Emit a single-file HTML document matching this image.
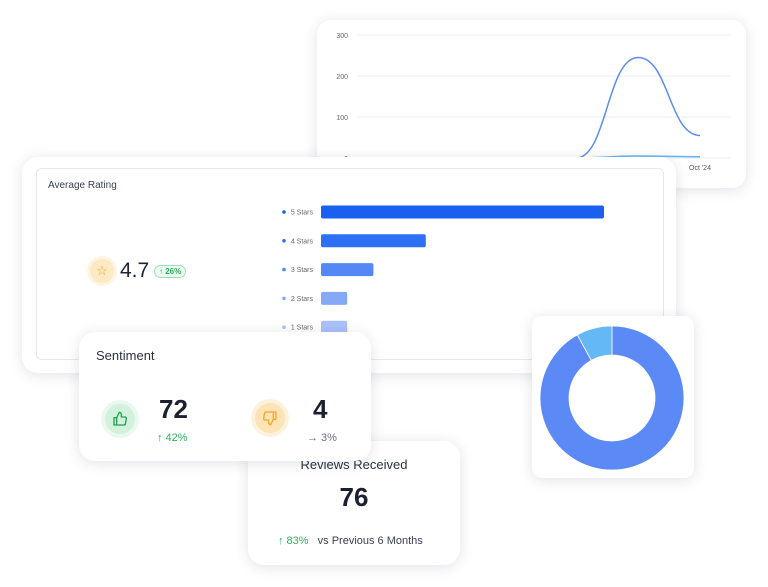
<!DOCTYPE html>
<html><head><meta charset="utf-8">
<style>
*{box-sizing:border-box;margin:0;padding:0}
body{width:768px;height:587px;background:#fff;position:relative;overflow:hidden;font-family:"Liberation Sans",sans-serif;color:#1f2433}
.card{position:absolute;background:#fff;border-radius:16px;box-shadow:0 2px 14px rgba(30,40,70,.13)}
svg{position:absolute;left:0;top:0}
.ic{position:absolute;border-radius:50%}
.ic svg{position:absolute;left:7px;top:7px}
</style></head><body>

<div class="card" style="left:317px;top:20px;width:429px;height:168px;border-radius:14px"></div>
<svg id="line" width="768" height="587"></svg>

<div class="card" style="left:22px;top:157px;width:654px;height:216px">
  <div style="position:absolute;left:14px;top:11px;width:628px;height:192px;border:1px solid #e6e9ef;border-radius:6px"></div>
  <div style="position:absolute;left:26px;top:23px;font-size:10px;color:#3b4150">Average Rating</div>
  <div style="position:absolute;left:68px;top:102px;width:24px;height:24px;border-radius:50%;background:#fde9c4;box-shadow:0 0 0 3px #fef4e2;color:#f5a623;font-size:13px;text-align:center;line-height:24px">☆</div>
  <div style="position:absolute;left:98px;top:102px;font-size:21px;color:#1f2433">4.7</div>
  <div style="position:absolute;left:132px;top:108px;font-size:8px;color:#2fa85a;border:1px solid #9ee0b4;background:#ecfbf1;border-radius:7px;padding:1px 4px;font-weight:bold">↑ 26%</div>
</div>
<svg id="bars" width="768" height="587"></svg>

<div class="card" style="left:532px;top:316px;width:162px;height:162px;border-radius:10px"></div>
<svg id="donut" width="768" height="587"></svg>

<div class="card" style="left:248px;top:441px;width:212px;height:124px">
  <div style="position:absolute;left:0;width:212px;top:16px;text-align:center;font-size:13px;color:#2b3140">Reviews Received</div>
  <div style="position:absolute;left:0;width:212px;top:41px;text-align:center;font-size:26px;font-weight:bold;color:#1b2030">76</div>
  <div style="position:absolute;left:30px;top:94px;font-size:11px;color:#2fb35f">↑ 83% <span style="color:#3b4150;margin-left:6px">vs Previous 6 Months</span></div>
</div>

<div class="card" style="left:79px;top:332px;width:292px;height:129px">
  <div style="position:absolute;left:17px;top:16px;font-size:13px;color:#2b3140">Sentiment</div>
  <div class="ic" style="left:26px;top:72px;width:30px;height:30px;background:#d2f2dd;box-shadow:0 0 0 4px #e9f9ef">
    <svg width="16" height="16" viewBox="0 0 24 24" fill="none" stroke="#22a150" stroke-width="2" stroke-linejoin="round"><path d="M7 10v11H3V10z"/><path d="M7 10l4-8c1.7 0 3 1.3 3 3v4h5.5a2 2 0 0 1 2 2.3l-1.4 8A2 2 0 0 1 18 21H7"/></svg>
  </div>
  <div style="position:absolute;left:80px;top:62px;font-size:26px;font-weight:bold;color:#1b2030">72</div>
  <div style="position:absolute;left:78px;top:100px;font-size:11px;color:#2fb35f">↑ 42%</div>
  <div class="ic" style="left:176px;top:71px;width:30px;height:30px;background:#fde3b5;box-shadow:0 0 0 4px #fef2dc">
    <svg width="16" height="16" viewBox="0 0 24 24" fill="none" stroke="#f5a623" stroke-width="2" stroke-linejoin="round"><path d="M17 14V3h4v11z"/><path d="M17 14l-4 8c-1.7 0-3-1.3-3-3v-4H4.5a2 2 0 0 1-2-2.3l1.4-8A2 2 0 0 1 6 3h11"/></svg>
  </div>
  <div style="position:absolute;left:234px;top:62px;font-size:26px;font-weight:bold;color:#1b2030">4</div>
  <div style="position:absolute;left:228px;top:100px;font-size:11px;color:#6b7280">→ 3%</div>
</div>

<script>
const NS='http://www.w3.org/2000/svg';
function mk(p,t,a){const e=document.createElementNS(NS,t);for(const k in a)e.setAttribute(k,a[k]);p.appendChild(e);return e;}

// line chart data
const lineMonths=['May','Jun','Jul','Aug','Sep','Oct \'24'];
const lineSeriesA=[0,0,0,0,245,55];
const lineSeriesB=[0,0,0,0,5,3];
const lineTicks=[0,100,200,300];
(function(){
  const s=document.getElementById('line');
  const y=v=>158-v*(123/300), x=i=>390+i*62;
  lineTicks.forEach(t=>{
    const g=mk(s,'line',{x1:357,x2:731,y1:y(t),y2:y(t),stroke:'#eceef2'});
    
    
    const tx=mk(s,'text',{x:348,y:y(t)+3,'font-size':7,fill:'#666','text-anchor':'end','font-family':'Liberation Sans'});
    tx.textContent=t;
    
    
  });
  const tl=mk(s,'text',{x:x(5),y:170,'font-size':7,fill:'#555','text-anchor':'middle','font-family':'Liberation Sans'});
  tl.textContent=lineMonths[5];
  
  
  function path(d){let p='M'+x(0)+','+y(d[0]);for(let i=1;i<d.length;i++){const x0=x(i-1),x1=x(i),c=(x1-x0)/2;p+=` C${x0+c},${y(d[i-1])} ${x1-c},${y(d[i])} ${x1},${y(d[i])}`;}return p;}
  const b=mk(s,'path',{d:path(lineSeriesB),fill:'none',stroke:'#64b5f6','stroke-width':1.5});
  
  
  const a=mk(s,'path',{d:path(lineSeriesA),fill:'none',stroke:'#5b8def','stroke-width':1.5});
  
  
})();

// rating bars data
const ratingLabels=['5 Stars','4 Stars','3 Stars','2 Stars','1 Stars'];
const ratingCounts=[54,20,10,5,5];
const ratingColors=['#1a5ff0','#2d6ff5','#5588f5','#86a9f7','#a9c1f9'];
(function(){
  const s=document.getElementById('bars');
  const max=Math.max(...ratingCounts), w=v=>v/max*283;
  ratingLabels.forEach((l,i)=>{
    const cy=212+i*28.8;
    const r=mk(s,'rect',{x:321,y:cy-6.5,width:w(ratingCounts[i]),height:13,rx:2,fill:ratingColors[i]});
    
    
    const d=mk(s,'circle',{cx:284,cy:cy,r:1.8,fill:ratingColors[i]});
    
    
    const t=mk(s,'text',{x:313,y:cy+2.5,'font-size':7,fill:'#666','text-anchor':'end','font-family':'Liberation Sans'});
    t.textContent=l;
    
    
  });
})();

// donut data
const donutValues=[92,8];
const donutColors=['#5b8af7','#63b8f5'];
(function(){
  const s=document.getElementById('donut');
  const cx=612,cy=398,R=72,r=43,tot=donutValues.reduce((a,b)=>a+b,0);
  let a0=-Math.PI/2;
  donutValues.forEach((v,i)=>{
    const a1=a0+v/tot*2*Math.PI, lg=(a1-a0)>Math.PI?1:0;
    const P=(rad,a)=>[cx+rad*Math.cos(a),cy+rad*Math.sin(a)];
    const [x0,y0]=P(R,a0),[x1,y1]=P(R,a1),[x2,y2]=P(r,a1),[x3,y3]=P(r,a0);
    const p=mk(s,'path',{d:`M${x0},${y0} A${R},${R} 0 ${lg} 1 ${x1},${y1} L${x2},${y2} A${r},${r} 0 ${lg} 0 ${x3},${y3} Z`,fill:donutColors[i],stroke:'#fff','stroke-width':0.8});
    
    
    a0=a1;
  });
})();
</script>
</body></html>
